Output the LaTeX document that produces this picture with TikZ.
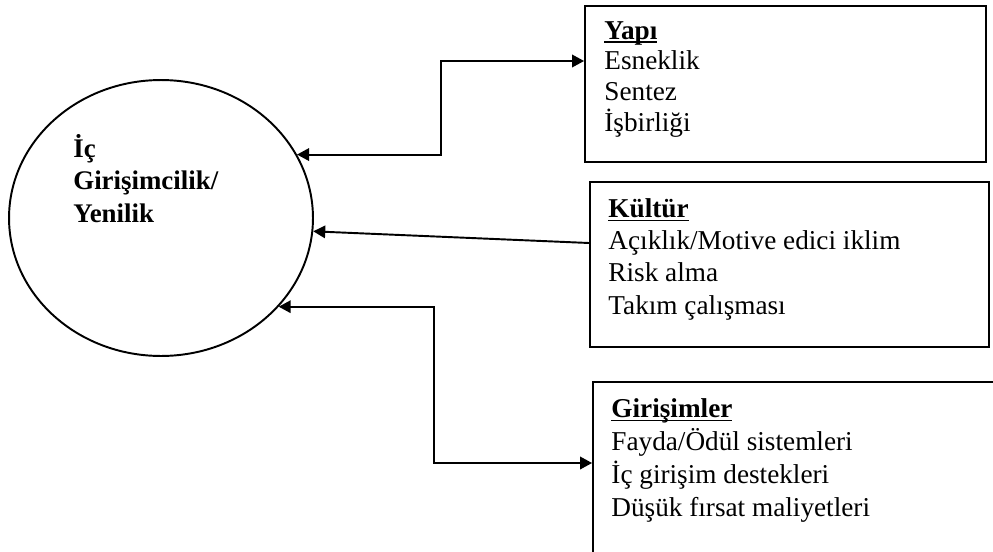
\documentclass[tikz,border=0pt]{standalone}
\usepackage{fontspec}
\setmainfont{Liberation Serif}
\usetikzlibrary{shapes.geometric,arrows.meta,positioning}
\newcommand{\hdr}[1]{\setbox0\hbox{\textbf{#1}}\rlap{\rule[-2.2pt]{\wd0}{1pt}}\box0}

\begin{document}
\begin{tikzpicture}[x=0.02cm, y=-0.02cm,
    panel/.style={rectangle, draw, line width=1.1pt, inner sep=0pt},
    paneltext/.style={anchor=base west, align=left, inner sep=0pt, font=\fontsize{15.5}{#1}\selectfont},
    paneltext/.default=18pt,
    link/.style={line width=1.1pt, -{Triangle[length=0.24cm, width=0.25cm]}},
    duplex/.style={line width=1.1pt, {Triangle[length=0.24cm, width=0.25cm]}-{Triangle[length=0.24cm, width=0.25cm]}}]
    \clip (0,0) rectangle (993,551);

    % Central circle
    \node[ellipse, draw, line width=1.1pt, minimum width=6.08cm, minimum height=5.52cm, inner sep=0pt] (core) at (161,218) {};
    \node[paneltext, font=\fontsize{15.3}{18.4}\selectfont\bfseries] (coretext) at (73,222) {İç\\Girişimcilik/\\Yenilik};

    % Factor boxes
    \node[panel, minimum width=8.02cm, minimum height=3.12cm] (yapi) at (785.5,84) {};
    \node[panel, minimum width=7.98cm, minimum height=3.3cm] (kultur) at (789.5,264.5) {};
    \node[panel, minimum width=8.14cm, minimum height=3.56cm] (girisim) at (796.5,471) {};

    % Box texts, placed by their last line
    \node[paneltext=17.4pt] (yapitext) at ([xshift=0.4cm, yshift=-2.52cm]yapi.north west)
        {\hdr{Yapı}\\Esneklik\\Sentez\\İşbirliği};
    \node[paneltext=18.3pt] (kulturtext) at ([xshift=0.38cm, yshift=-2.66cm]kultur.north west)
        {\hdr{Kültür}\\Açıklık/Motive edici iklim\\Risk alma\\Takım çalışması};
    \node[paneltext=18.7pt] (girisimtext) at ([xshift=0.38cm, yshift=-2.7cm]girisim.north west)
        {\hdr{Girişimler}\\Fayda/Ödül sistemleri\\İç girişim destekleri\\Düşük fırsat maliyetleri};

    % Connectors
    \coordinate (upbend) at (441,61);
    \coordinate (downbend) at (434,463);
    \draw[duplex] (core.25.5) -| (upbend) -- (upbend -| yapi.west);
    \draw[link] ([yshift=0.43cm]kultur.west) -- (core.-5.8);
    \draw[duplex] (core.-37.8) -| (downbend) -- (downbend -| girisim.west);
\end{tikzpicture}
\end{document}
